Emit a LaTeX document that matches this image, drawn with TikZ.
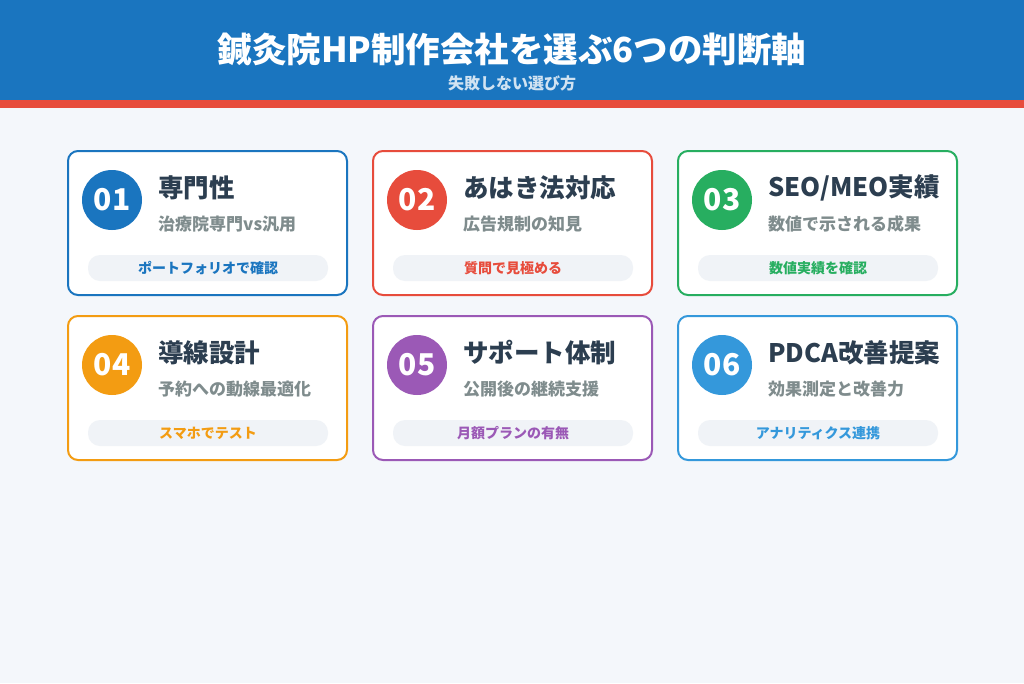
\documentclass[tikz,border=0pt]{standalone}
\usepackage{fontspec}
\setmainfont{Noto Sans CJK JP}
\definecolor{bg}{HTML}{F4F7FB}
\definecolor{hdr}{HTML}{1A75BF}
\definecolor{stripe}{HTML}{E74C3C}
\definecolor{ttl}{HTML}{2C3E50}
\definecolor{sub}{HTML}{7F8C8D}
\definecolor{pill}{HTML}{F0F3F7}
\definecolor{c1}{HTML}{1A75BF}
\definecolor{c2}{HTML}{E74C3C}
\definecolor{c3}{HTML}{27AE60}
\definecolor{c4}{HTML}{F39C12}
\definecolor{c5}{HTML}{9B59B6}
\definecolor{c6}{HTML}{3498DB}
\tikzset{
 card/.style={draw=#1,line width=2pt,rounded corners=10pt,fill=white},
 num/.style={circle,fill=#1,minimum size=60pt,inner sep=0pt,text=white,font=\fontsize{30}{30}\selectfont\bfseries},
 ctitle/.style={anchor=west,text=ttl,font=\fontsize{25.5}{27}\selectfont\bfseries,inner sep=0pt},
 csub/.style={anchor=west,text=sub,font=\fontsize{17}{19}\selectfont\bfseries,inner sep=0pt},
 cpill/.style={fill=pill,rounded corners=12pt,minimum width=240pt,minimum height=26pt,inner sep=0pt,text=#1,font=\fontsize{14}{15}\selectfont\bfseries},
}
\newcommand{\mycard}[7]{%
 \draw[card=#3] (#1,#2) rectangle ++(279,-144);
 \node[num=#3] (n#4) at (#1+44,#2-49) {#4};
 \node[ctitle] (t#4) at (#1+90,#2-37) {#5};
 \node[csub] (s#4) at (#1+90,#2-73) {#6};
 \node[cpill=#3] (p#4) at (#1+140,#2-117) {#7};
}
\begin{document}
\begin{tikzpicture}[x=1pt,y=1pt]
\fill[bg] (0,0) rectangle (1024,-683);
\useasboundingbox (0,0) rectangle (1024,-683);
\fill[hdr] (0,0) rectangle (1024,-100);
\fill[stripe] (0,-100) rectangle (1024,-108);
\node[text=white,font=\fontsize{34.5}{36}\selectfont\bfseries] (title) at (512,-50) {鍼灸院HP制作会社を選ぶ6つの判断軸};
\node[text=white!80!hdr,font=\fontsize{16}{18}\selectfont\bfseries] (subtitle) at (512,-83) {失敗しない選び方};
\mycard{68}{-151}{c1}{01}{専門性}{治療院専門vs汎用}{ポートフォリオで確認}
\mycard{373}{-151}{c2}{02}{あはき法対応}{広告規制の知見}{質問で見極める}
\mycard{678}{-151}{c3}{03}{SEO/MEO実績}{数値で示される成果}{数値実績を確認}
\mycard{68}{-316}{c4}{04}{導線設計}{予約への動線最適化}{スマホでテスト}
\mycard{373}{-316}{c5}{05}{サポート体制}{公開後の継続支援}{月額プランの有無}
\mycard{678}{-316}{c6}{06}{PDCA改善提案}{効果測定と改善力}{アナリティクス連携}
\end{tikzpicture}
\end{document}
